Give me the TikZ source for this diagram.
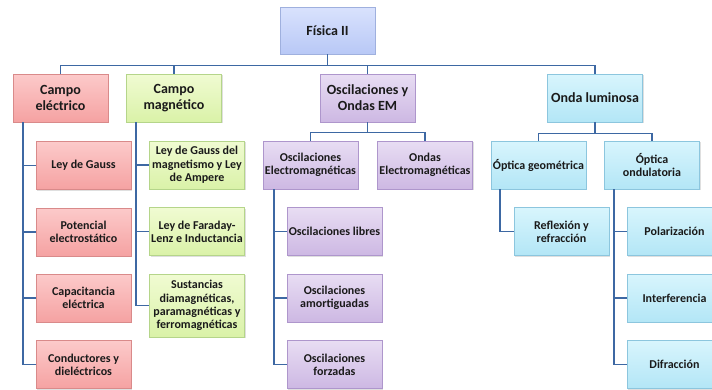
\documentclass[tikz,border=0pt]{standalone}
\usepackage{fontspec}
\setmainfont{Carlito}
\usetikzlibrary{shadows}
\definecolor{fisLine}{HTML}{3D68A3}
\definecolor{fisText}{HTML}{1A1A1A}
\definecolor{fisRootTop}{HTML}{D9E2FD}
\definecolor{fisRootBot}{HTML}{B8C8F6}
\definecolor{fisRootDraw}{HTML}{9FB0DE}
\definecolor{fisRedTop}{HTML}{FCCACA}
\definecolor{fisRedBot}{HTML}{F5A2A2}
\definecolor{fisRedDraw}{HTML}{D98A8A}
\definecolor{fisGreenTop}{HTML}{F0FBD2}
\definecolor{fisGreenBot}{HTML}{DAF2A8}
\definecolor{fisGreenDraw}{HTML}{B5D58A}
\definecolor{fisPurpleTop}{HTML}{E8DDF3}
\definecolor{fisPurpleBot}{HTML}{CDB8E3}
\definecolor{fisPurpleDraw}{HTML}{AE96CC}
\definecolor{fisCyanTop}{HTML}{D8F5FD}
\definecolor{fisCyanBot}{HTML}{B3E6F6}
\definecolor{fisCyanDraw}{HTML}{8CC6DE}
\tikzset{
  fis box/.style={rectangle, line width=0.6pt, minimum width=95pt, minimum height=48pt,
    inner sep=0.5pt, align=center, font=\bfseries\fontsize{12}{13.3}\selectfont, text=fisText,
    drop shadow={opacity=0.25, shadow xshift=1.2pt, shadow yshift=-1.2pt}},
  fis big/.style={font=\bfseries\fontsize{14}{16}\selectfont},
  fis root/.style={fis box, fis big, draw=fisRootDraw, top color=fisRootTop, bottom color=fisRootBot, minimum height=47pt},
  fis red/.style={fis box, draw=fisRedDraw, top color=fisRedTop, bottom color=fisRedBot},
  fis green/.style={fis box, draw=fisGreenDraw, top color=fisGreenTop, bottom color=fisGreenBot},
  fis purple/.style={fis box, draw=fisPurpleDraw, top color=fisPurpleTop, bottom color=fisPurpleBot},
  fis cyan/.style={fis box, draw=fisCyanDraw, top color=fisCyanTop, bottom color=fisCyanBot},
  fis link/.style={draw=fisLine, line width=1.6pt},
}

\begin{document}
\begin{tikzpicture}[x=1pt, y=-1pt]
  \useasboundingbox (0,0) rectangle (712,389);

  % Root
  \node[fis root] (root) at (327.5,30.5) {Física II};

  % Level 1
  \node[fis red, fis big]    (campoE) at (60.5,98)  {Campo\\eléctrico};
  \node[fis green, fis big]  (campoM) at (174,98)   {Campo\\magnético};
  \node[fis purple, fis big] (oscEM)  at (367.5,98) {Oscilaciones y\\Ondas EM};
  \node[fis cyan, fis big]   (ondaL)  at (595,98)   {Onda luminosa};

  % Campo electrico branch
  \node[fis red] (gauss)     at (83.5,165.5) {Ley de Gauss};
  \node[fis red] (potencial) at (83.5,232)   {Potencial\\electrostático};
  \node[fis red] (capacit)   at (83.5,298)   {Capacitancia\\eléctrica};
  \node[fis red] (conduct)   at (83.5,364.5) {Conductores y\\dieléctricos};

  % Campo magnetico branch
  \node[fis green] (gaussM)     at (197,165)   {Ley de Gauss del\\magnetismo y Ley\\de Ampere};
  \node[fis green] (faraday)    at (197,231.5) {Ley de Faraday-\\Lenz e Inductancia};
  \node[fis green, minimum height=63pt] (sustancias) at (197,305.5)
    {Sustancias\\diamagnéticas,\\paramagnéticas y\\ferromagnéticas};

  % Oscilaciones branch
  \node[fis purple] (oscElec)   at (310.5,165) {Oscilaciones\\Electromagnéticas};
  \node[fis purple] (ondasElec) at (425,165)   {Ondas\\Electromagnéticas};
  \node[fis purple] (libres)    at (334.5,231.5) {Oscilaciones libres};
  \node[fis purple] (amort)     at (334.5,298)   {Oscilaciones\\amortiguadas};
  \node[fis purple] (forzadas)  at (334.5,364.5) {Oscilaciones\\forzadas};

  % Onda luminosa branch
  \node[fis cyan] (optGeo) at (538.5,165) {Óptica geométrica};
  \node[fis cyan] (optOnd) at (652,165)   {Óptica\\ondulatoria};
  \node[fis cyan] (reflex) at (561.5,231.5) {Reflexión y\\refracción};
  \node[fis cyan] (polar)  at (674.5,231.5) {Polarización};
  \node[fis cyan] (interf) at (674.5,298)   {Interferencia};
  \node[fis cyan] (difrac) at (674.5,364.5) {Difracción};

  % Connectors
  \foreach \kid in {campoE,campoM,oscEM,ondaL}
    \draw[fis link] (root.south) -- ++(0,11) -| (\kid.north);
  \foreach \kid in {oscElec,ondasElec}
    \draw[fis link] (oscEM.south) -- ++(0,10) -| (\kid.north);
  \foreach \kid in {optGeo,optOnd}
    \draw[fis link] (ondaL.south) -- ++(0,11) -| (\kid.north);
  \foreach \kid in {gauss,potencial,capacit,conduct}
    \draw[fis link] ([xshift=10pt]campoE.south west) |- (\kid.west);
  \foreach \kid in {gaussM,faraday,sustancias}
    \draw[fis link] ([xshift=10pt]campoM.south west) |- (\kid.west);
  \foreach \kid in {libres,amort,forzadas}
    \draw[fis link] ([xshift=11pt]oscElec.south west) |- (\kid.west);
  \draw[fis link] ([xshift=9pt]optGeo.south west) |- (reflex.west);
  \foreach \kid in {polar,interf,difrac}
    \draw[fis link] ([xshift=10pt]optOnd.south west) |- (\kid.west);
\end{tikzpicture}
\end{document}
